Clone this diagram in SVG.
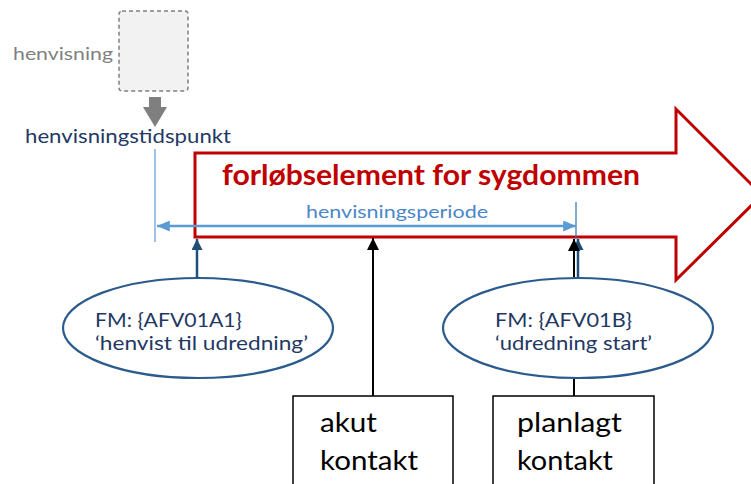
<svg xmlns="http://www.w3.org/2000/svg" width="751" height="484" viewBox="0 0 751 484">
  <style>
    .lbl { font-family: Lato, "Open Sans", "Liberation Sans", sans-serif; }
    .dark { fill: #1f3864; }
    .ell { fill: #ffffff; stroke: #2a5b8c; stroke-width: 2.2; }
    .box { fill: #ffffff; stroke: #000000; stroke-width: 1.5; }
    .blk { stroke: #000000; stroke-width: 2; fill: none; }
    .nav { stroke: #1f4e79; stroke-width: 2.5; fill: none; }
    .per { stroke: #5b9bd5; stroke-width: 2.5; fill: none; }
    .tick { stroke: #5b9bd5; stroke-width: 1.2; fill: none; }
  </style>
  <defs>
    <marker id="hBlack" viewBox="0 0 12 12" refX="12" refY="6" markerWidth="12" markerHeight="12" markerUnits="userSpaceOnUse" orient="auto">
      <path d="M0,0 L12,6 L0,12 Z" fill="#000000"/>
    </marker>
    <marker id="hNavy" viewBox="0 0 12 12" refX="12" refY="6" markerWidth="11" markerHeight="11" markerUnits="userSpaceOnUse" orient="auto">
      <path d="M0,0 L12,6 L0,12 Z" fill="#1f4e79"/>
    </marker>
    <marker id="hPer" viewBox="0 0 14 12" refX="14" refY="6" markerWidth="14" markerHeight="11" markerUnits="userSpaceOnUse" orient="auto-start-reverse">
      <path d="M0,0 L14,6 L0,12 Z" fill="#5b9bd5"/>
    </marker>
  </defs>

  <rect width="751" height="484" fill="#ffffff"/>

  <!-- referral source -->
  <g id="henvisning">
    <rect x="119" y="11" width="69" height="80" rx="3" fill="#f2f2f2" stroke="#7f7f7f" stroke-width="1.5" stroke-dasharray="4,3"/>
    <text class="lbl" x="13" y="60" font-size="18" fill="#7f7f7f" textLength="100" lengthAdjust="spacingAndGlyphs">henvisning</text>
    <path d="M149,97 H161 V107 H167 L155,127 L143,107 H149 Z" fill="#7f7f7f"/>
  </g>

  <g id="tidspunkt">
    <text class="lbl dark" x="25" y="143" font-size="19" textLength="206" lengthAdjust="spacingAndGlyphs">henvisningstidspunkt</text>
  </g>

  <!-- big block arrow -->
  <g id="forloeb">
    <path d="M195,153 H676 V109 L762,195 L676,280 V237 H195 Z" fill="#ffffff" stroke="#c00000" stroke-width="3" stroke-linejoin="miter"/>
    <text class="lbl" x="222" y="185" font-size="28" font-weight="bold" fill="#c00000" textLength="418" lengthAdjust="spacingAndGlyphs">forløbselement for sygdommen</text>
  </g>

  <!-- ellipses -->
  <g id="afv01a1">
    <ellipse class="ell" cx="198" cy="328" rx="135" ry="50"/>
    <text class="lbl dark" x="95" y="327" font-size="19" textLength="147" lengthAdjust="spacingAndGlyphs">FM: {AFV01A1}</text>
    <text class="lbl dark" x="95" y="350" font-size="19" textLength="213" lengthAdjust="spacingAndGlyphs">‘henvist til udredning’</text>
  </g>

  <!-- connectors -->
  <g id="connectors">
    <line class="tick" x1="155" y1="149" x2="155" y2="242"/>
    <line x1="576" y1="202" x2="576" y2="239" stroke="#2e75b6" stroke-width="1.2"/>
    <line class="per" x1="157" y1="226" x2="576" y2="226" marker-start="url(#hPer)" marker-end="url(#hPer)"/>
    <line class="nav" x1="197" y1="278" x2="197" y2="239" marker-end="url(#hNavy)"/>
    <line class="blk" x1="373" y1="396" x2="373" y2="238" marker-end="url(#hBlack)"/>
    <line class="nav" x1="578" y1="280" x2="578" y2="239" marker-end="url(#hNavy)"/>
    <line class="blk" x1="574" y1="396" x2="574" y2="239" marker-end="url(#hBlack)"/>
  </g>

  <g id="afv01b">
    <ellipse class="ell" cx="578" cy="328" rx="135" ry="50"/>
    <text class="lbl dark" x="495" y="327" font-size="19" textLength="137" lengthAdjust="spacingAndGlyphs">FM: {AFV01B}</text>
    <text class="lbl dark" x="495" y="350" font-size="19" textLength="157" lengthAdjust="spacingAndGlyphs">‘udredning start’</text>
  </g>

  <text class="lbl" x="306" y="218" font-size="18" fill="#4a86c8" textLength="182" lengthAdjust="spacingAndGlyphs">henvisningsperiode</text>

  <!-- contact boxes -->
  <g id="akut">
    <rect class="box" x="293" y="396" width="160" height="100"/>
    <text class="lbl" x="320" y="432" font-size="27" fill="#000000" textLength="57" lengthAdjust="spacingAndGlyphs">akut</text>
    <text class="lbl" x="320" y="470" font-size="27" fill="#000000" textLength="98" lengthAdjust="spacingAndGlyphs">kontakt</text>
  </g>
  <g id="planlagt">
    <rect class="box" x="493" y="396" width="161" height="100"/>
    <text class="lbl" x="517" y="432" font-size="27" fill="#000000" textLength="105" lengthAdjust="spacingAndGlyphs">planlagt</text>
    <text class="lbl" x="517" y="470" font-size="27" fill="#000000" textLength="96" lengthAdjust="spacingAndGlyphs">kontakt</text>
  </g>
</svg>
